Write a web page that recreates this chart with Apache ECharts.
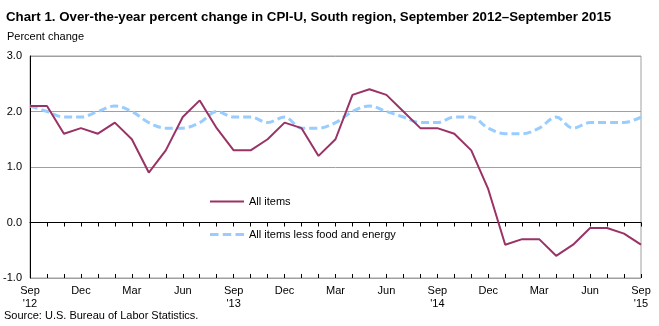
<!DOCTYPE html>
<html><head><meta charset="utf-8">
<script src="https://cdn.jsdelivr.net/npm/echarts@6/dist/echarts.min.js"></script>
<style>html,body{margin:0;padding:0;background:#fff}#c{width:659px;height:326px}</style>
</head><body><div id="c"></div>
<script>
const categories = [
 "Sep 2012","Oct 2012","Nov 2012","Dec 2012","Jan 2013","Feb 2013","Mar 2013","Apr 2013","May 2013","Jun 2013","Jul 2013","Aug 2013",
 "Sep 2013","Oct 2013","Nov 2013","Dec 2013","Jan 2014","Feb 2014","Mar 2014","Apr 2014","May 2014","Jun 2014","Jul 2014","Aug 2014",
 "Sep 2014","Oct 2014","Nov 2014","Dec 2014","Jan 2015","Feb 2015","Mar 2015","Apr 2015","May 2015","Jun 2015","Jul 2015","Aug 2015","Sep 2015"];
const allItems = [2.1,2.1,1.6,1.7,1.6,1.8,1.5,0.9,1.3,1.9,2.2,1.7,
 1.3,1.3,1.5,1.8,1.7,1.2,1.5,2.3,2.4,2.3,2.0,1.7,
 1.7,1.6,1.3,0.6,-0.4,-0.3,-0.3,-0.6,-0.4,-0.1,-0.1,-0.2,-0.4];
const coreItems = [2.1,2.0,1.9,1.9,2.0,2.1,2.0,1.8,1.7,1.7,1.8,2.0,
 1.9,1.9,1.8,1.9,1.7,1.7,1.8,2.0,2.1,2.0,1.9,1.8,
 1.8,1.9,1.9,1.7,1.6,1.6,1.7,1.9,1.7,1.8,1.8,1.8,1.9];
const yTicks = [-1,0,1,2,3];

function xLabel(v){
  const [m,y] = v.split(' ');
  if (m === 'Sep') return m + "\n'" + y.slice(2);
  return m;
}
const chart = echarts.init(document.getElementById('c'));
const font = 'Liberation Sans, Arial, sans-serif';
chart.setOption({
  animation:false,
  textStyle:{fontFamily:font},
  title:[
    {text:'Chart 1. Over-the-year percent change in CPI-U, South region, September 2012\u2013September 2015',left:6,top:11,padding:0,
     textStyle:{fontSize:13.3,fontWeight:'bold',color:'#000',fontFamily:font}},
    {text:'Percent change',left:7,top:31,padding:0,textStyle:{fontSize:11,fontWeight:'normal',color:'#000',fontFamily:font}},
    {text:'Source: U.S. Bureau of Labor Statistics.',left:4,top:310,padding:0,textStyle:{fontSize:11,fontWeight:'normal',color:'#000',fontFamily:font}}
  ],
  grid:{left:30,right:18,top:56,bottom:48,show:true,borderColor:'#a0a0a0',borderWidth:1,backgroundColor:'transparent'},
  legend:{
    orient:'vertical',left:210,top:196,itemGap:22,itemWidth:34,itemHeight:8,padding:0,
    textStyle:{fontSize:11,color:'#000',fontFamily:font},
    data:[{name:'All items',icon:'path://M0,0L34,0L34,2L0,2Z'},{name:'All items less food and energy',icon:'path://M0,0L8,0L8,3L0,3ZM12,0L20,0L20,3L12,3ZM24,0L32,0L32,3L24,3Z'}]
  },
  xAxis:[{
    type:'category',data:categories,boundaryGap:false,
    axisLine:{lineStyle:{color:'#000',width:1}},
    axisTick:{interval:0,length:4,inside:false,lineStyle:{color:'#000'}},
    axisLabel:{interval:2,formatter:xLabel,color:'#000',fontSize:11,margin:6,lineHeight:13,fontFamily:font},
    splitLine:{show:false}
  },{
    type:'category',data:categories,boundaryGap:false,position:'bottom',
    axisLine:{show:false},
    axisTick:{interval:0,length:4,inside:true,lineStyle:{color:'#000'}},
    axisLabel:{show:false},
    splitLine:{show:false}
  }],
  yAxis:{
    type:'value',min:-1,max:3,interval:1,
    axisLine:{show:true,lineStyle:{color:'#000',width:1}},
    axisTick:{show:false},
    axisLabel:{formatter:v=>v.toFixed(1),color:'#000',fontSize:11,margin:8,fontFamily:font},
    splitLine:{lineStyle:{color:'#a0a0a0',width:1}}
  },
  series:[
    {name:'All items',type:'line',data:allItems,symbol:'none',z:3,xAxisIndex:0,
     lineStyle:{color:'#993366',width:2},itemStyle:{color:'#993366'}},
    {name:'All items less food and energy',type:'line',data:coreItems,symbol:'none',smooth:0.35,z:2,xAxisIndex:0,
     lineStyle:{color:'#99ccff',width:3,type:[8,4]},itemStyle:{color:'#99ccff'}}
  ]
});
</script></body></html>
